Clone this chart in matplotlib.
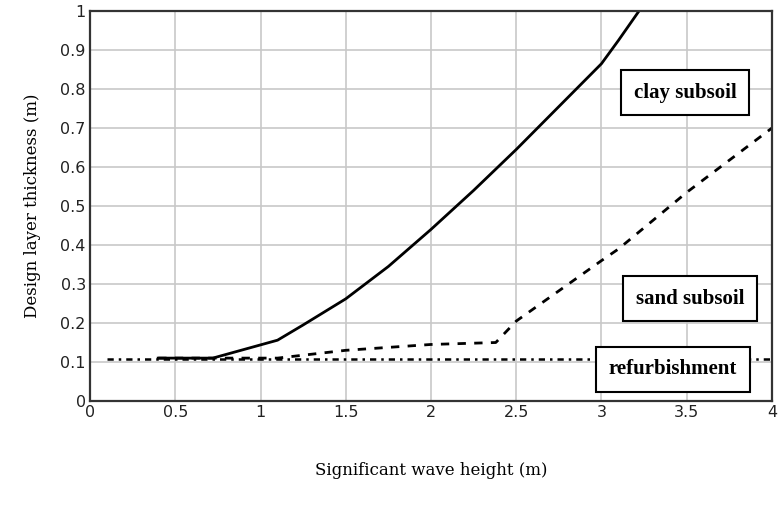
import matplotlib
matplotlib.use("Agg")
import matplotlib.pyplot as plt

clay_x = [0.40, 0.72, 1.10, 1.25, 1.50, 1.75, 2.00, 2.25, 2.50, 2.75, 3.00, 3.10, 3.22]
clay_y = [0.11, 0.11, 0.156, 0.195, 0.262, 0.345, 0.44, 0.54, 0.645, 0.755, 0.865, 0.925, 1.00]

sand_x = [0.40, 1.10, 1.50, 2.00, 2.38, 2.50, 3.00, 3.10, 3.50, 4.00]
sand_y = [0.11, 0.11, 0.13, 0.145, 0.15, 0.205, 0.36, 0.39, 0.535, 0.70]

refurb_x = [0.10, 4.00]
refurb_y = [0.107, 0.107]

xticks = [0, 0.5, 1, 1.5, 2, 2.5, 3, 3.5, 4]
xtick_labels = ["0", "0.5", "1", "1.5", "2", "2.5", "3", "3.5", "4"]
yticks = [0, 0.1, 0.2, 0.3, 0.4, 0.5, 0.6, 0.7, 0.8, 0.9, 1.0]
ytick_labels = ["0", "0.1", "0.2", "0.3", "0.4", "0.5", "0.6", "0.7", "0.8", "0.9", "1"]

labels = ["clay subsoil", "sand subsoil", "refurbishment"]

fig = plt.figure(figsize=(7.82, 5.24), dpi=100)
ax = fig.add_axes([0.1151, 0.2347, 0.8721, 0.7443])

ax.plot(clay_x, clay_y, color="black", lw=2.0, ls="-")
ax.plot(sand_x, sand_y, color="black", lw=2.0, ls=(0, (3, 3)))
ax.plot(refurb_x, refurb_y, color="black", lw=1.8, ls=(0, (2.5, 2, 1, 2)))

ax.set_xlim(0, 4)
ax.set_ylim(0, 1)
ax.set_xticks(xticks)
ax.set_xticklabels(xtick_labels)
ax.set_yticks(yticks)
ax.set_yticklabels(ytick_labels)
ax.grid(True, color="#c8c8c8", lw=1.2)
ax.set_axisbelow(True)
ax.tick_params(length=0, labelsize=11.5, pad=3, colors="#222222")
for lab in ax.get_xticklabels() + ax.get_yticklabels():
    lab.set_family(["Liberation Sans Narrow", "DejaVu Sans"])
for s in ax.spines.values():
    s.set_color("#333333")
    s.set_linewidth(1.6)

ax.set_xlabel("Significant wave height (m)", family="DejaVu Serif", fontsize=12, labelpad=30)
ax.set_ylabel("Design layer thickness (m)", family="DejaVu Serif", fontsize=12, labelpad=14)

box = dict(boxstyle="square,pad=0.6", fc="white", ec="black", lw=1.5)
ax.text(3.49, 0.79, labels[0], family="Liberation Serif", weight="bold", fontsize=15,
        ha="center", va="center", bbox=box)
ax.text(3.52, 0.262, labels[1], family="Liberation Serif", weight="bold", fontsize=15,
        ha="center", va="center", bbox=box)
ax.text(3.42, 0.082, labels[2], family="Liberation Serif", weight="bold", fontsize=15,
        ha="center", va="center", bbox=box)

fig.savefig("out.png", dpi=100)
